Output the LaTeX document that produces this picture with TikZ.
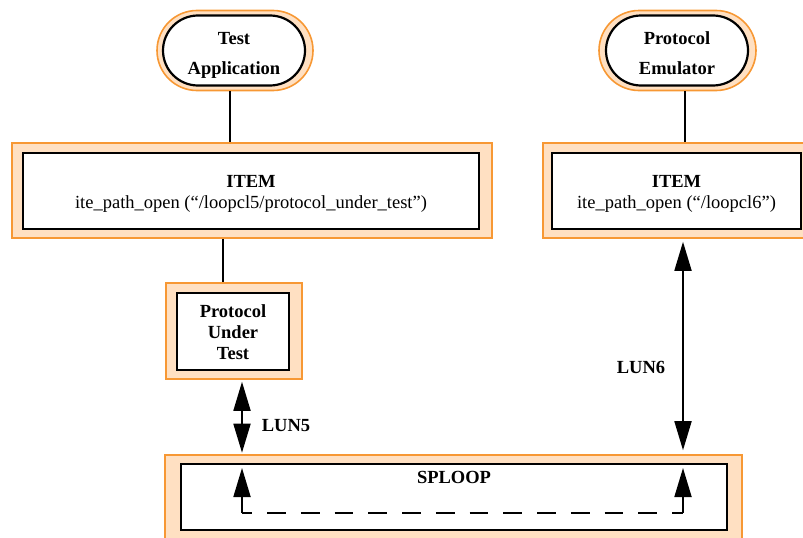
\documentclass[tikz,border=0pt]{standalone}
\usepackage{fontspec}
\setmainfont{Liberation Serif}
\usetikzlibrary{arrows.meta}
\definecolor{orangeline}{RGB}{247,152,52}
\definecolor{peach}{RGB}{255,224,194}
\begin{document}
\begin{tikzpicture}[x=1pt,y=-1pt,
  outerbox/.style={draw=orangeline, fill=peach, line width=1.6pt, rectangle, inner sep=0pt},
  innerbox/.style={draw=black, fill=white, line width=2.2pt, rectangle, inner sep=0pt},
  plaintext/.style={align=center, inner sep=0pt, font=\fontsize{18.5}{21}\selectfont},
  boldtext/.style={align=center, inner sep=0pt, font=\bfseries\fontsize{18.5}{21}\selectfont},
  wideboldtext/.style={align=center, inner sep=0pt, font=\bfseries\fontsize{18.5}{30}\selectfont},
  conn/.style={line width=1.8pt},
  bigtip/.style={-{Triangle[length=29pt,width=17pt]}},
  bothtips/.style={{Triangle[length=29pt,width=17pt]}-{Triangle[length=29pt,width=17pt]}}
]
\useasboundingbox (0,0) rectangle (803,538);
\clip (0,0) rectangle (803,538);

% Test Application
\node[outerbox, rounded corners=40pt, minimum width=156pt, minimum height=80pt] (tao) at (235,50.5) {};
\node[innerbox, rounded corners=35pt, minimum width=142pt, minimum height=70pt] (ta) at (234,50.5) {};
\node[wideboldtext] (tatext) at (234,55) {Test\\Application};

% Protocol Emulator
\node[outerbox, rounded corners=40pt, minimum width=157pt, minimum height=80pt] (peo) at (677.5,50.5) {};
\node[innerbox, rounded corners=35pt, minimum width=142pt, minimum height=70pt] (pe) at (677,50.5) {};
\node[wideboldtext] (petext) at (677,53.5) {Protocol\\Emulator};

% ITEM left
\node[outerbox, minimum width=480pt, minimum height=95pt] (itemlo) at (252,190.5) {};
\node[innerbox, minimum width=456pt, minimum height=76pt] (iteml) at (251,191) {};
\node[plaintext] (itemltext) at (251,194) {\textbf{ITEM}\\ite\_path\_open (“/loopcl5/protocol\_under\_test”)};

% ITEM right
\node[outerbox, minimum width=270pt, minimum height=95pt] (itemro) at (678,190.5) {};
\node[innerbox, minimum width=249pt, minimum height=76pt] (itemr) at (676.5,191) {};
\node[plaintext] (itemrtext) at (676.5,194) {\textbf{ITEM}\\ite\_path\_open (“/loopcl6”)};

% Protocol Under Test
\node[outerbox, minimum width=136pt, minimum height=96pt] (puto) at (234,331) {};
\node[innerbox, minimum width=112pt, minimum height=77pt] (put) at (233,331.5) {};
\node[boldtext] (puttext) at (233,332.5) {Protocol\\Under\\Test};

% SPLOOP
\node[outerbox, minimum width=577pt, minimum height=87pt] (sploopo) at (453.5,498.5) {};
\node[innerbox, minimum width=546pt, minimum height=66pt] (sploop) at (454,497) {};
\node[boldtext] (splooplabel) at (454,477) {SPLOOP};

% connectors
\draw[conn] ([xshift=-5pt]tao.south) -- ([xshift=-5pt]tao.south |- itemlo.north);
\draw[conn] ([xshift=7.5pt]peo.south) -- ([xshift=7.5pt]peo.south |- itemro.north);
\draw[conn] ([xshift=-29pt]itemlo.south) -- ([xshift=-29pt]itemlo.south |- puto.north);

\draw[conn, bothtips, shorten <=2pt, shorten >=1.5pt] ([xshift=8pt]puto.south) -- ([xshift=8pt]puto.south |- sploopo.north);
\coordinate (l6x) at (683,0);
\draw[conn, bothtips, shorten <=3pt, shorten >=4pt] (l6x |- itemro.south) -- (l6x |- sploopo.north);

\node[boldtext] (lun5) at (286,426) {LUN5};
\node[boldtext] (lun6) at (641,367) {LUN6};

% inner loop
\coordinate (a1) at (242,513);
\coordinate (a2) at (683,513);
\coordinate (looptop) at (454,468);
\draw[conn, bigtip] (a1) -- (a1 |- looptop);
\draw[conn, bigtip] (a2) -- (a2 |- looptop);
\draw[conn, dash pattern=on 18.75pt off 15pt, dash phase=8.75pt] (a1) -- (a2);
\end{tikzpicture}
\end{document}
